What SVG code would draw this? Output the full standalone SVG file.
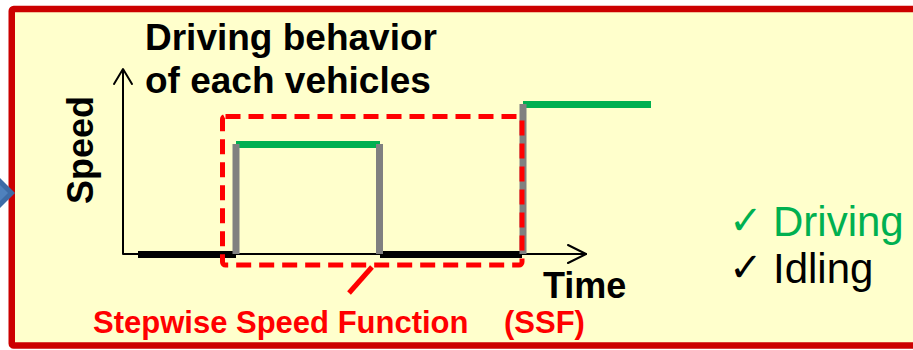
<svg xmlns="http://www.w3.org/2000/svg" width="913" height="350" viewBox="0 0 913 350">
  <style>
    .title { font-family: "Liberation Sans", Arial, sans-serif; font-weight: bold; font-size: 36px; fill: #000000; }
    .big { font-size: 37px; }
    .axis { fill: none; stroke: #000000; stroke-width: 2; stroke-linejoin: round; stroke-linecap: round; }
    .idle { stroke: #000000; stroke-width: 7; }
    .drive { stroke: #00B050; stroke-width: 7; }
    .step { stroke: #808080; stroke-width: 7; }
    .ssf { fill: none; stroke: #FF0000; stroke-width: 5; stroke-dasharray: 15 8; }
    .legend { font-family: "Liberation Sans", Arial, sans-serif; font-size: 42px; }
    .check { font-family: "DejaVu Sans", sans-serif; font-size: 40px; }
    .red { font-family: "Liberation Sans", Arial, sans-serif; font-weight: bold; font-size: 31px; fill: #FF0000; }
  </style>

  <!-- panel frame -->
  <g id="panel">
    <rect x="11.75" y="9" width="920" height="336.5" rx="2" fill="#FFFFCC" stroke="#CC0000" stroke-width="6.5"/>
  </g>

  <!-- incoming flow chevron -->
  <g id="chevron">
    <polygon points="-6,172 15,193 -6,214" fill="#3D6BA6"/>
    <polygon points="-6,179 8,193 -6,207" fill="#4F81BD"/>
  </g>

  <g id="title">
    <text class="title big" x="145" y="50">Driving behavior</text>
    <text class="title big" x="145" y="93">of each vehicles</text>
  </g>

  <!-- axes -->
  <g id="axes">
    <polyline class="axis" points="123,70 123,254 586,254"/>
    <polyline class="axis" points="114,84 123,69 132,84"/>
    <polyline class="axis" points="568,245 586,254 568,263"/>
    <text class="title" transform="translate(93,150) rotate(-90)" text-anchor="middle">Speed</text>
    <text class="title" x="543" y="298">Time</text>
  </g>

  <!-- speed profile -->
  <g id="profile">
    <line class="idle" x1="138" y1="254.5" x2="236" y2="254.5"/>
    <line class="idle" x1="380" y1="254.5" x2="522" y2="254.5"/>
    <line class="drive" x1="236" y1="144.5" x2="380" y2="144.5"/>
    <line class="drive" x1="523" y1="104.5" x2="651" y2="104.5"/>
    <line class="step" x1="236" y1="144" x2="236" y2="254"/>
    <line class="step" x1="379.5" y1="144" x2="379.5" y2="254"/>
    <line class="step" x1="523" y1="104" x2="523" y2="254"/>
  </g>

  <!-- stepwise speed function highlight -->
  <g id="connectors">
    <rect class="ssf" x="222.5" y="116.5" width="299.5" height="148.5" rx="3"/>
    <line x1="372" y1="267" x2="349" y2="293" stroke="#FF0000" stroke-width="5"/>
  </g>

  <g id="ssf-label">
    <text class="red" x="93" y="333">Stepwise Speed Function</text>
    <text class="red" x="504" y="333">(SSF)</text>
  </g>

  <g id="legend">
    <text class="check" x="729" y="234" fill="#00B050">✓</text>
    <text class="legend" x="773" y="236" fill="#00B050">Driving</text>
    <text class="check" x="729" y="281" fill="#000000">✓</text>
    <text class="legend" x="773" y="283" fill="#000000">Idling</text>
  </g>
</svg>
